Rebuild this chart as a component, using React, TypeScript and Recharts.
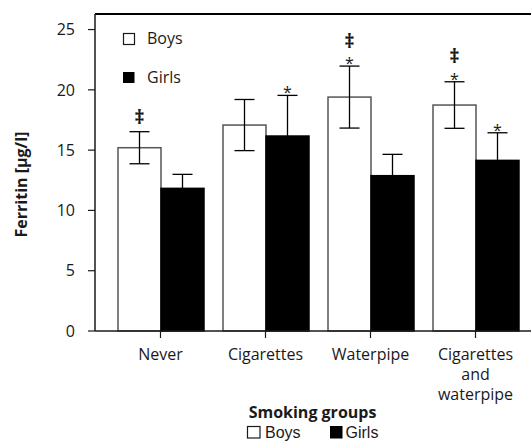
import React from 'react';
import { BarChart, Bar, XAxis, YAxis, ErrorBar, ReferenceLine, Legend, Label } from 'recharts';

const categories = ["Never", "Cigarettes", "Waterpipe", "Cigarettes and waterpipe"];
const tickLines = [["Never"], ["Cigarettes"], ["Waterpipe"], ["Cigarettes", "and", "waterpipe"]];
const seriesNames = ["Boys", "Girls"];
const boys = [15.2, 17.08, 19.4, 18.74];
const boysErr = [1.33, 2.12, 2.57, 1.93];
const girls = [11.83, 16.17, 12.88, 14.15];
const girlsErr = [1.16, 3.37, 1.77, 2.29];
const boysMarks = ["‡", "", "*‡", "*‡"];
const girlsMarks = ["", "*", "", "*"];
const yTicks = [0, 5, 10, 15, 20, 25];
const yMax = 26.29;
const yTitle = "Ferritin [µg/l]";
const xTitle = "Smoking groups";

const data = categories.map((c, i) => ({
  category: c,
  boys: boys[i],
  boysErr: boysErr[i],
  girls: girls[i],
  girlsErr: girlsErr[i],
  boysMark: boysMarks[i],
  girlsMark: girlsMarks[i],
}));

const FONT = '"Open Sans", sans-serif';
const LEG_FONT = '"Liberation Sans", Arial, sans-serif';
const INK = '#1a1a1a';

const makeShape = (valueKey: string, errKey: string, markKey: string, fill: string, stroke: string) => (props: any) => {
  const { x, y, width, height, payload } = props;
  const v = payload[valueKey];
  const pxPerUnit = v ? height / v : 0;
  const errTop = y - payload[errKey] * pxPerUnit;
  const mark: string = payload[markKey] || "";
  const cx = x + width / 2;
  const hasStar = mark.includes("*");
  const hasDagger = mark.includes("‡");
  return (
    <g>
      <rect x={x} y={y} width={width} height={height} fill={fill} stroke={stroke} strokeWidth={1.5} />
      {hasStar && (
        <text x={cx} y={errTop - 6.5 + 9.3} textAnchor="middle" fontSize={16} fill={INK} fontFamily={FONT}>*</text>
      )}
      {hasDagger && (
        <text x={cx} y={errTop - (hasStar ? 25.3 : 15) + 7} textAnchor="middle" fontSize={20} fontWeight="bold" fill={INK} fontFamily={FONT}>‡</text>
      )}
    </g>
  );
};

const CustomTick = (props: any) => {
  const { x, y, payload } = props;
  const idx = categories.indexOf(payload.value);
  const lines = idx >= 0 ? tickLines[idx] : [String(payload.value)];
  return (
    <g>
      {lines.map((ln, i) => (
        <text key={i} x={x} y={y + 12 + i * 20} textAnchor="middle" fontSize={16} fill={INK} fontFamily={FONT}>{ln}</text>
      ))}
    </g>
  );
};

const XTitle = (props: any) => {
  const vb = props.viewBox || {};
  return (
    <text x={vb.x + vb.width / 2 - 0.5} y={418.3} textAnchor="middle" fontSize={16} fontWeight="bold" fill={INK} fontFamily={FONT}>{xTitle}</text>
  );
};

const YTitle = (props: any) => {
  const vb = props.viewBox || {};
  const cx = 20.5;
  const cy = vb.y + vb.height / 2 + 12;
  return (
    <text x={cx} y={cy} transform={`rotate(-90, ${cx}, ${cy})`} textAnchor="middle" dominantBaseline="central" fontSize={16} fontWeight="bold" fill={INK} fontFamily={FONT}>{yTitle}</text>
  );
};

const LegendContent = () => (
  <svg width={531} height={441} style={{ position: 'absolute', left: 0, top: 0, pointerEvents: 'none' }}>
    <rect x={123.5} y={33.5} width={11} height={11} fill="#fff" stroke={INK} strokeWidth={1.2} />
    <text x={147} y={44.3} fontSize={16} fill={INK} fontFamily={FONT}>{seriesNames[0]}</text>
    <rect x={123} y={72} width={11.5} height={11} fill="#000" />
    <text x={147} y={82.7} fontSize={16} fill={INK} fontFamily={FONT}>{seriesNames[1]}</text>
    <rect x={247.5} y={426.5} width={12.5} height={11.5} fill="#fff" stroke={INK} strokeWidth={1.2} />
    <text x={265} y={437.6} fontSize={16} fill={INK} fontFamily={LEG_FONT}>{seriesNames[0]}</text>
    <rect x={330} y={426} width={12.5} height={12.5} fill="#000" />
    <text x={345.5} y={437.6} fontSize={16} fill={INK} fontFamily={LEG_FONT}>{seriesNames[1]}</text>
  </svg>
);

export default function App() {
  return (
    <div style={{ position: 'fixed', left: 0, top: 0, width: 531, height: 441, overflow: 'hidden', fontFamily: FONT, background: '#fff' }}>
      <style>{`html, body { margin: 0; padding: 0; overflow: hidden; }`}</style>
      <BarChart width={531} height={441} data={data} margin={{ top: 14, right: 0, left: 0, bottom: 0 }} barSize={43} barGap={0}>
        <XAxis
          dataKey="category"
          height={110}
          padding={{ left: 13, right: 3 }}
          tickSize={7}
          tickMargin={10}
          interval={0}
          tick={<CustomTick />}
          axisLine={{ stroke: INK, strokeWidth: 1.5 }}
          tickLine={{ stroke: INK, strokeWidth: 1.2 }}
        >
          <Label content={<XTitle />} />
        </XAxis>
        <YAxis
          width={95}
          domain={[0, yMax]}
          ticks={yTicks}
          tickSize={7}
          tickMargin={13}
          tick={{ fontSize: 16, fill: INK, fontFamily: FONT }}
          axisLine={{ stroke: INK, strokeWidth: 1.5 }}
          tickLine={{ stroke: INK, strokeWidth: 1.2 }}
        >
          <Label content={<YTitle />} />
        </YAxis>
        <ReferenceLine y={yMax} stroke="#000" strokeWidth={1.8} ifOverflow="visible" />
        <Legend verticalAlign="middle" align="center" layout="horizontal" wrapperStyle={{ position: 'absolute', left: 0, top: 0, width: 531, height: 441, pointerEvents: 'none' }} content={<LegendContent />} />
        <Bar dataKey="boys" name={seriesNames[0]} fill="#fff" stroke="#555" isAnimationActive={false} shape={makeShape('boys', 'boysErr', 'boysMark', '#fff', '#555')}>
          <ErrorBar dataKey="boysErr" width={10} stroke="#000" strokeWidth={1.3} />
        </Bar>
        <Bar dataKey="girls" name={seriesNames[1]} fill="#000" isAnimationActive={false} shape={makeShape('girls', 'girlsErr', 'girlsMark', '#000', '#000')}>
          <ErrorBar dataKey="girlsErr" width={10} stroke="#000" strokeWidth={1.3} />
        </Bar>
      </BarChart>
    </div>
  );
}
